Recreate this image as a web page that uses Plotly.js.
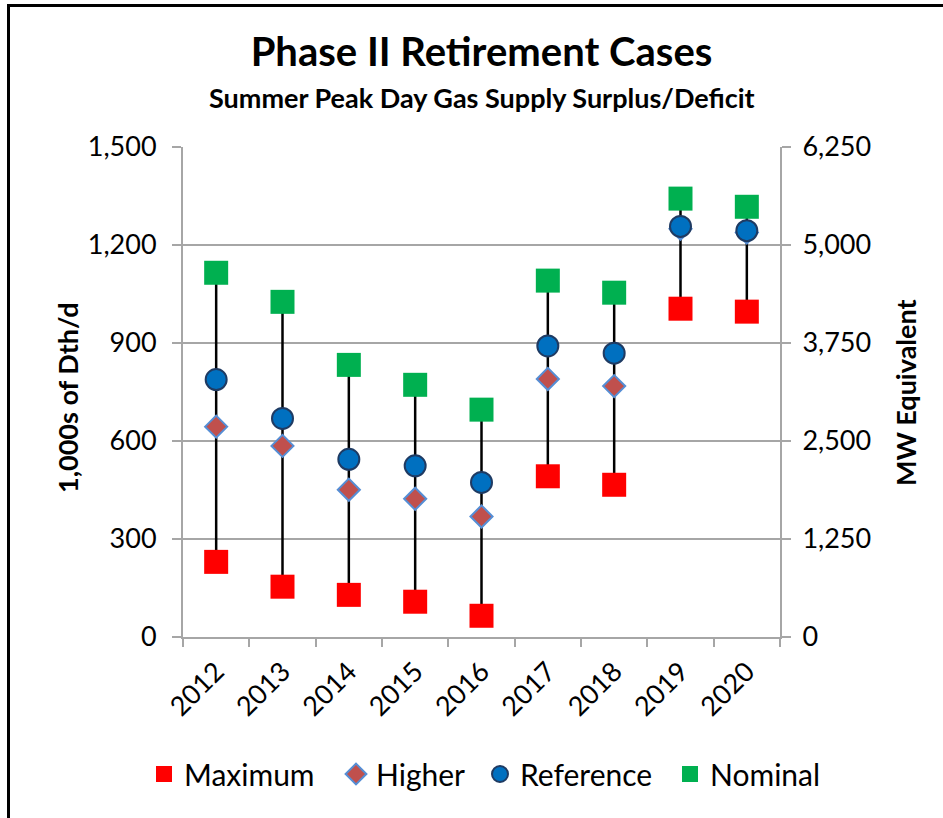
<!DOCTYPE html>
<html>
<head>
<meta charset="utf-8">
<script src="https://cdn.plot.ly/plotly-3.0.1.min.js"></script>
<style>
  html, body { margin: 0; padding: 0; background: #fff; }
  #chart { position: absolute; left: 0; top: 0; width: 943px; height: 818px; }
  #frame { position: absolute; left: 7px; top: 4px; width: 960px; height: 840px;
           border-left: 3px solid #000; border-top: 3px solid #000; pointer-events: none; }
</style>
</head>
<body>
<div id="chart"></div>
<div id="frame"></div>
<script>
// ---- data ----
const years = ["2012", "2013", "2014", "2015", "2016", "2017", "2018", "2019", "2020"];
const maximum   = [230, 154, 129, 108, 65, 492, 466, 1005, 996];
const higher    = [644, 585, 451, 423, 369, 790, 768, 1250, 1238];
const reference = [788, 669, 544, 524, 473, 891, 869, 1257, 1244];
const nominal   = [1115, 1026, 833, 772, 696, 1091, 1054, 1342, 1317];
const yTicks = [0, 300, 600, 900, 1200, 1500];
const y2Ticks = [0, 1250, 2500, 3750, 5000, 6250];

const FONT = "Lato, 'Open Sans', sans-serif";

// high-low lines from maximum to nominal
const hlX = [], hlY = [];
years.forEach((yr, i) => {
  hlX.push(yr, yr, null);
  hlY.push(maximum[i], nominal[i], null);
});

const traces = [
  { type: "scatter", mode: "lines", x: hlX, y: hlY, showlegend: false, hoverinfo: "skip",
    line: { color: "#000000", width: 2.5 } },
  { type: "scatter", mode: "markers", name: "Maximum", x: years, y: maximum, legendwidth: 147,
    marker: { symbol: "square", size: 24, color: "#FF0000" } },
  { type: "scatter", mode: "markers", name: "Higher", x: years, y: higher, legendwidth: 99,
    marker: { symbol: "diamond", size: 17, color: "#C0504D", line: { color: "#558ED5", width: 2 } } },
  { type: "scatter", mode: "markers", name: "Reference", x: years, y: reference, legendwidth: 145,
    marker: { symbol: "circle", size: 21, color: "#0070C0", line: { color: "#1F3B63", width: 2 } } },
  { type: "scatter", mode: "markers", name: "Nominal", x: years, y: nominal, legendwidth: 113,
    marker: { symbol: "square", size: 24, color: "#00B050" } },
  // invisible helper so the secondary (MW) axis is drawn
  { type: "scatter", mode: "markers", x: [years[0], years[0]], y: [y2Ticks[0], y2Ticks[y2Ticks.length - 1]],
    yaxis: "y2", showlegend: false, hoverinfo: "skip", marker: { opacity: 0, size: 1 } }
];

const layout = {
  width: 943, height: 818,
  margin: { l: 183, r: 163, t: 147, b: 181 },
  paper_bgcolor: "#ffffff", plot_bgcolor: "#ffffff",
  font: { family: FONT, color: "#000000", size: 27 },
  showlegend: true,
  title: {
    text: "<b>Phase II Retirement Cases</b>",
    font: { family: FONT, size: 40, color: "#000" },
    x: 0.5, xref: "paper", xanchor: "center",
    y: 1 - 52 / 818, yref: "container", yanchor: "middle"
  },
  annotations: [
    { text: "<b>Summer Peak Day Gas Supply Surplus/Deficit</b>",
      xref: "paper", yref: "paper", x: 0.5, y: 1 + (147 - 97) / 490,
      xanchor: "center", yanchor: "middle", showarrow: false,
      font: { family: FONT, size: 27, color: "#000" } },
    { text: "<b>1,000s of Dth/d</b>", textangle: -90,
      xref: "paper", yref: "paper", x: (67 - 183) / 597, y: (637 - 398) / 490,
      xanchor: "center", yanchor: "middle", showarrow: false,
      font: { family: FONT, size: 27, color: "#000" } },
    { text: "<b>MW Equivalent</b>", textangle: -90,
      xref: "paper", yref: "paper", x: (905 - 183) / 597, y: (637 - 393) / 490,
      xanchor: "center", yanchor: "middle", showarrow: false,
      font: { family: FONT, size: 27, color: "#000" } }
  ],
  xaxis: {
    type: "category", categoryorder: "array", categoryarray: years,
    range: [-0.5, 8.5], tickson: "boundaries",
    showgrid: false, zeroline: false,
    showline: true, linecolor: "#A6A6A6", linewidth: 2,
    ticks: "outside", ticklen: 8, tickcolor: "#A6A6A6", tickwidth: 2,
    ticklabelstandoff: 6,
    tickangle: -45, tickfont: { family: FONT, size: 27, color: "#000" }
  },
  yaxis: {
    range: [0, 1500], tickvals: yTicks, tickformat: ",",
    showgrid: true, gridcolor: "#A6A6A6", gridwidth: 2, zeroline: false,
    showline: true, linecolor: "#A6A6A6", linewidth: 2,
    ticks: "outside", ticklen: 9, tickcolor: "#A6A6A6", tickwidth: 2,
    ticklabelstandoff: 10,
    tickfont: { family: FONT, size: 27, color: "#000" }
  },
  yaxis2: {
    overlaying: "y", side: "right", anchor: "x",
    range: [0, 6250], tickvals: y2Ticks, tickformat: ",",
    showgrid: false, zeroline: false,
    showline: true, linecolor: "#A6A6A6", linewidth: 2,
    ticks: "outside", ticklen: 9, tickcolor: "#A6A6A6", tickwidth: 2,
    ticklabelstandoff: 6,
    tickfont: { family: FONT, size: 27, color: "#000" }
  },
  legend: {
    orientation: "h", x: (144 - 183) / 597, xanchor: "left", xref: "paper",
    y: (637 - 774) / 490, yref: "paper", yanchor: "middle",
    font: { family: FONT, size: 30, color: "#000" },
    itemwidth: 30, bgcolor: "rgba(0,0,0,0)"
  }
};

Plotly.newPlot("chart", traces, layout, { displayModeBar: false, staticPlot: true });
</script>
</body>
</html>
